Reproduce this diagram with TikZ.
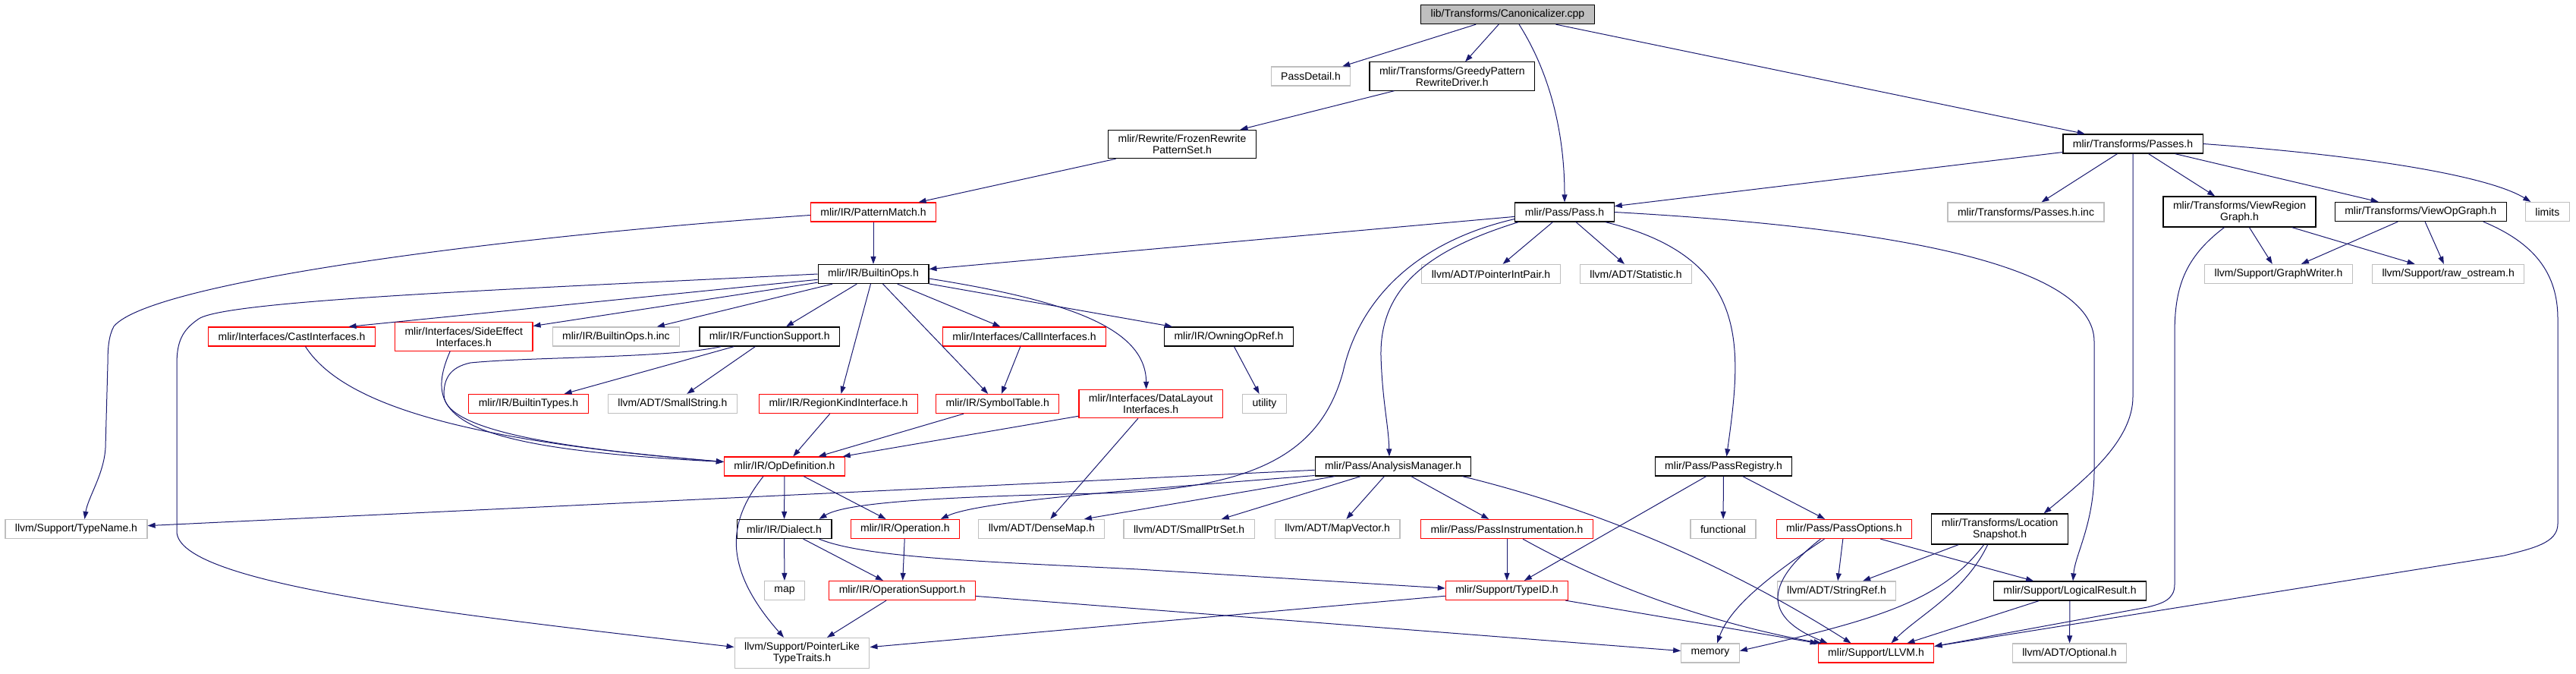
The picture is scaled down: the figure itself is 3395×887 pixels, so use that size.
\documentclass[tikz,border=0pt]{standalone}
\usepackage{fontspec}
\setmainfont{Liberation Sans}
\usetikzlibrary{arrows.meta, positioning}
\definecolor{edgeblue}{HTML}{191970}
\definecolor{extgray}{HTML}{BFBFBF}
\tikzset{
    filenode/.style={rectangle, draw=black, fill=white, line width=1.2pt, inner xsep=13pt, inner ysep=6pt, minimum height=25pt, align=center, font=\fontsize{14}{15}\selectfont},
    rootnode/.style={filenode, fill=extgray},
    sysnode/.style={filenode, draw=extgray},
    truncnode/.style={filenode, draw=red},
    arrow/.style={edgeblue, line width=1pt, -{Triangle[length=10pt, width=7pt]}}
}
\begin{document}
\begin{tikzpicture}[x=1pt, y=-1pt]
        \useasboundingbox (0,0) rectangle (3395,887);
        \node (canon) [rootnode] at (1987,19) {lib/Transforms/Canonicalizer.cpp};
        \node (passdetail) [sysnode] at (1727.5,100.5) {PassDetail.h};
        \node (greedy) [filenode, right=24pt of passdetail] {mlir/Transforms/GreedyPattern\\RewriteDriver.h};
        \node (frozen) [filenode] at (1558,190) {mlir/Rewrite/FrozenRewrite\\PatternSet.h};
        \node (passes) [filenode] at (2811,189.5) {mlir/Transforms/Passes.h};
        \node (patternmatch) [truncnode] at (1151,279.5) {mlir/IR/PatternMatch.h};
        \node (pass) [filenode] at (2062,279.5) {mlir/Pass/Pass.h};
        \node (passesinc) [sysnode] at (2670,279.5) {mlir/Transforms/Passes.h.inc};
        \node (viewregion) [filenode] at (2951.5,279) {mlir/Transforms/ViewRegion\\Graph.h};
        \node (viewop) [filenode, right=24pt of viewregion] {mlir/Transforms/ViewOpGraph.h};
        \node (limits) [sysnode, right=24pt of viewop] {limits};
        \node (builtinops) [filenode] at (1151,361) {mlir/IR/BuiltinOps.h};
        \node (ptrintpair) [sysnode] at (1965,361) {llvm/ADT/PointerIntPair.h};
        \node (statistic) [sysnode, right=25pt of ptrintpair] {llvm/ADT/Statistic.h};
        \node (graphwriter) [sysnode] at (3003,361) {llvm/Support/GraphWriter.h};
        \node (rawostream) [sysnode, right=25pt of graphwriter] {llvm/Support/raw\_ostream.h};
        \node (castif) [truncnode] at (384.5,443.5) {mlir/Interfaces/CastInterfaces.h};
        \node (sideeffect) [truncnode, right=25pt of castif] {mlir/Interfaces/SideEffect\\Interfaces.h};
        \node (builtinopsinc) [sysnode, right=25pt of sideeffect] {mlir/IR/BuiltinOps.h.inc};
        \node (funcsupport) [filenode, right=25pt of builtinopsinc] {mlir/IR/FunctionSupport.h};
        \node (callif) [truncnode] at (1350,443.5) {mlir/Interfaces/CallInterfaces.h};
        \node (owningopref) [filenode] at (1619.5,443.5) {mlir/IR/OwningOpRef.h};
        \node (builtintypes) [truncnode] at (696.5,532) {mlir/IR/BuiltinTypes.h};
        \node (smallstring) [sysnode, right=25pt of builtintypes] {llvm/ADT/SmallString.h};
        \node (regionkind) [truncnode] at (1105,532) {mlir/IR/RegionKindInterface.h};
        \node (symboltable) [truncnode, right=23pt of regionkind] {mlir/IR/SymbolTable.h};
        \node (datalayout) [truncnode, right=25pt of symboltable] {mlir/Interfaces/DataLayout\\Interfaces.h};
        \node (utility) [sysnode, right=25pt of datalayout] {utility};
        \node (opdef) [truncnode] at (1034,614.5) {mlir/IR/OpDefinition.h};
        \node (analysis) [filenode] at (1836,614.5) {mlir/Pass/AnalysisManager.h};
        \node (passregistry) [filenode] at (2271.5,614.5) {mlir/Pass/PassRegistry.h};
        \node (typename) [sysnode] at (100.5,697) {llvm/Support/TypeName.h};
        \node (dialect) [filenode] at (1033.5,697) {mlir/IR/Dialect.h};
        \node (operation) [truncnode, right=24pt of dialect] {mlir/IR/Operation.h};
        \node (densemap) [sysnode, right=24pt of operation] {llvm/ADT/DenseMap.h};
        \node (smallptrset) [sysnode, right=24pt of densemap] {llvm/ADT/SmallPtrSet.h};
        \node (mapvector) [sysnode, right=26pt of smallptrset] {llvm/ADT/MapVector.h};
        \node (passinstr) [truncnode] at (1986,697) {mlir/Pass/PassInstrumentation.h};
        \node (functional) [sysnode] at (2271,697) {functional};
        \node (passoptions) [truncnode, right=26pt of functional] {mlir/Pass/PassOptions.h};
        \node (locsnap) [filenode, right=25pt of passoptions] {mlir/Transforms/Location\\Snapshot.h};
        \node (map) [sysnode] at (1034,778) {map};
        \node (opsupport) [truncnode, right=31pt of map] {mlir/IR/OperationSupport.h};
        \node (typeid) [truncnode] at (1986,778) {mlir/Support/TypeID.h};
        \node (stringref) [sysnode] at (2420.5,778.5) {llvm/ADT/StringRef.h};
        \node (logical) [filenode] at (2728,778.5) {mlir/Support/LogicalResult.h};
        \node (pointerlike) [sysnode] at (1057,860.5) {llvm/Support/PointerLike\\TypeTraits.h};
        \node (memory) [sysnode] at (2254,860.5) {memory};
        \node (llvm) [truncnode] at (2472.5,860.5) {mlir/Support/LLVM.h};
        \node (optional) [sysnode] at (2727.5,860.5) {llvm/ADT/Optional.h};

        \draw [arrow] (canon) -- (passdetail);
        \draw [arrow] (canon) -- (greedy);
        \draw [arrow] ([xshift=15pt]canon.south) .. controls (2045,100) and (2062,180) .. (pass.north);
        \draw [arrow] (canon) -- (passes);
        \draw [arrow] (greedy) -- (frozen);
        \draw [arrow] (frozen) -- (patternmatch);
        \draw [arrow] (patternmatch) -- (builtinops);
        \draw [arrow] ([yshift=-4pt]patternmatch.west) .. controls (680,310) and (200,370) .. (150,430) .. controls (143,443) and (142,460) .. (142,480) -- (139,590) .. controls (137,625) and (116,655) .. ([xshift=11pt]typename.north);
        \draw [arrow] (passes) -- (pass);
        \draw [arrow] (passes) -- (passesinc);
        \draw [arrow] (passes) -- (viewregion);
        \draw [arrow] (passes) -- (viewop);
        \draw [arrow] (passes.east) .. controls (3120,205) and (3280,232) .. ([xshift=-22pt]limits.north);
        \draw [arrow] (passes.south) -- ++(0,320) .. controls (2811,580) and (2750,630) .. ([xshift=58pt]locsnap.north);
        \draw [arrow] (viewregion) -- (graphwriter);
        \draw [arrow] (viewregion) -- (rawostream);
        \draw [arrow] ([xshift=-20pt]viewregion.south) .. controls (2878,340) and (2866,380) .. (2866,440) -- (2866,770) .. controls (2866,790) and (2850,795) .. (2830,800) -- ([yshift=9pt]llvm.east);
        \draw [arrow] (viewop) -- (graphwriter);
        \draw [arrow] (viewop) -- (rawostream);
        \draw [arrow] ([xshift=-31pt]viewop.south east) .. controls (3340,320) and (3371,360) .. (3371,420) -- (3371,690) .. controls (3371,715) and (3340,722) .. (3300,732) -- ([yshift=9pt]llvm.east);
        \draw [arrow] (pass) -- (builtinops);
        \draw [arrow] ([yshift=-9pt]pass.west) .. controls (1860,320) and (1790,400) .. (1770,490) .. controls (1740,600) and (1650,645) .. (1450,650) .. controls (1200,655) and (1110,665) .. ([xshift=46pt]dialect.north);
        \draw [arrow] ([xshift=5pt]pass.south west) .. controls (1880,330) and (1818,380) .. (1820,470) .. controls (1822,530) and (1830,560) .. ([xshift=-5pt]analysis.north);
        \draw [arrow] (pass) -- (ptrintpair);
        \draw [arrow] (pass) -- (statistic);
        \draw [arrow] ([xshift=-12pt]pass.south east) .. controls (2310,340) and (2295,460) .. ([xshift=4pt]passregistry.north);
        \draw [arrow] (pass.east) .. controls (2500,300) and (2760,350) .. (2760,450) -- (2760,620) .. controls (2760,690) and (2735,730) .. ([xshift=4pt]logical.north);
        \draw [arrow] (builtinops) -- ([xshift=75pt]castif.north);
        \draw [arrow] (builtinops) -- (sideeffect);
        \draw [arrow] (builtinops) -- (builtinopsinc);
        \draw [arrow] (builtinops) -- (funcsupport);
        \draw [arrow] (builtinops) -- (regionkind);
        \draw [arrow] (builtinops) -- (symboltable);
        \draw [arrow] (builtinops) -- (callif);
        \draw [arrow] (builtinops) -- (owningopref);
        \draw [arrow] ([yshift=-6pt]builtinops.east) .. controls (1400,395) and (1510,430) .. ([xshift=-6pt]datalayout.north);
        \draw [arrow] (builtinops.west) .. controls (700,380) and (300,395) .. (262,420) .. controls (240,435) and (233,450) .. (233,480) -- (233,700) .. controls (233,770) and (600,810) .. ([yshift=8pt]pointerlike.west);
        \draw [arrow] (funcsupport) -- (builtintypes);
        \draw [arrow] (funcsupport) -- (smallstring);
        \draw [arrow] ([xshift=29pt]funcsupport.south west) .. controls (880,472) and (700,470) .. (620,478) .. controls (592,484) and (585,500) .. (585,520) .. controls (585,575) and (800,595) .. ([yshift=6pt]opdef.west);
        \draw [arrow] ([xshift=18pt]castif.south) .. controls (450,530) and (600,580) .. ([yshift=6pt]opdef.west);
        \draw [arrow] ([xshift=-18pt]sideeffect.south) .. controls (555,550) and (600,590) .. ([yshift=6pt]opdef.west);
        \draw [arrow] (callif) -- (symboltable);
        \draw [arrow] (owningopref) -- (utility);
        \draw [arrow] (regionkind) -- (opdef);
        \draw [arrow] (symboltable) -- (opdef);
        \draw [arrow] (datalayout) -- (opdef);
        \draw [arrow] (datalayout) -- (densemap);
        \draw [arrow] (opdef) -- (dialect);
        \draw [arrow] (opdef) -- (operation);
        \draw [arrow] ([xshift=-28pt]opdef.south) .. controls (965,680) and (945,740) .. ([xshift=-24pt]pointerlike.north);
        \draw [arrow] (analysis) -- (typename);
        \draw [arrow] ([yshift=-12pt]analysis.west) .. controls (1500,645) and (1290,660) .. ([xshift=47pt]operation.north);
        \draw [arrow] (analysis) -- ([xshift=56pt]densemap.north);
        \draw [arrow] (analysis) -- (smallptrset);
        \draw [arrow] (analysis) -- (mapvector);
        \draw [arrow] (analysis) -- (passinstr);
        \draw [arrow] ([xshift=-12pt]analysis.south east) .. controls (2100,670) and (2270,740) .. ([xshift=-33pt]llvm.north);
        \draw [arrow] (passregistry) -- (typeid);
        \draw [arrow] (passregistry) -- (functional);
        \draw [arrow] (passregistry) -- (passoptions);
        \draw [arrow] (dialect) -- (map);
        \draw [arrow] (dialect) -- (opsupport);
        \draw [arrow] ([xshift=-17pt]dialect.south east) .. controls (1140,735) and (1300,740) .. (1500,750) -- ([yshift=3pt]typeid.west);
        \draw [arrow] (operation) -- (opsupport);
        \draw [arrow] (passinstr) -- (typeid);
        \draw [arrow] ([xshift=21pt]passinstr.south) .. controls (2150,790) and (2300,830) .. ([xshift=-72pt]llvm.north);
        \draw [arrow] ([xshift=-26pt]passoptions.south) .. controls (2330,760) and (2280,800) .. ([xshift=9pt]memory.north);
        \draw [arrow] ([xshift=-31pt]passoptions.south) .. controls (2310,780) and (2340,820) .. ([xshift=-64pt]llvm.north);
        \draw [arrow] (passoptions) -- (stringref);
        \draw [arrow] (passoptions) -- (logical);
        \draw [arrow] (locsnap) -- (stringref);
        \draw [arrow] ([xshift=-21pt]locsnap.south) .. controls (2560,790) and (2480,815) .. ([yshift=3pt]memory.east);
        \draw [arrow] ([xshift=-16pt]locsnap.south) .. controls (2590,780) and (2530,810) .. ([xshift=20pt]llvm.north);
        \draw [arrow] (opsupport) -- (pointerlike);
        \draw [arrow] (opsupport) -- (memory);
        \draw [arrow] (typeid) -- (pointerlike);
        \draw [arrow] (typeid) -- (llvm);
        \draw [arrow] (logical) -- (llvm);
        \draw [arrow] (logical) -- (optional);
\end{tikzpicture}
\end{document}
